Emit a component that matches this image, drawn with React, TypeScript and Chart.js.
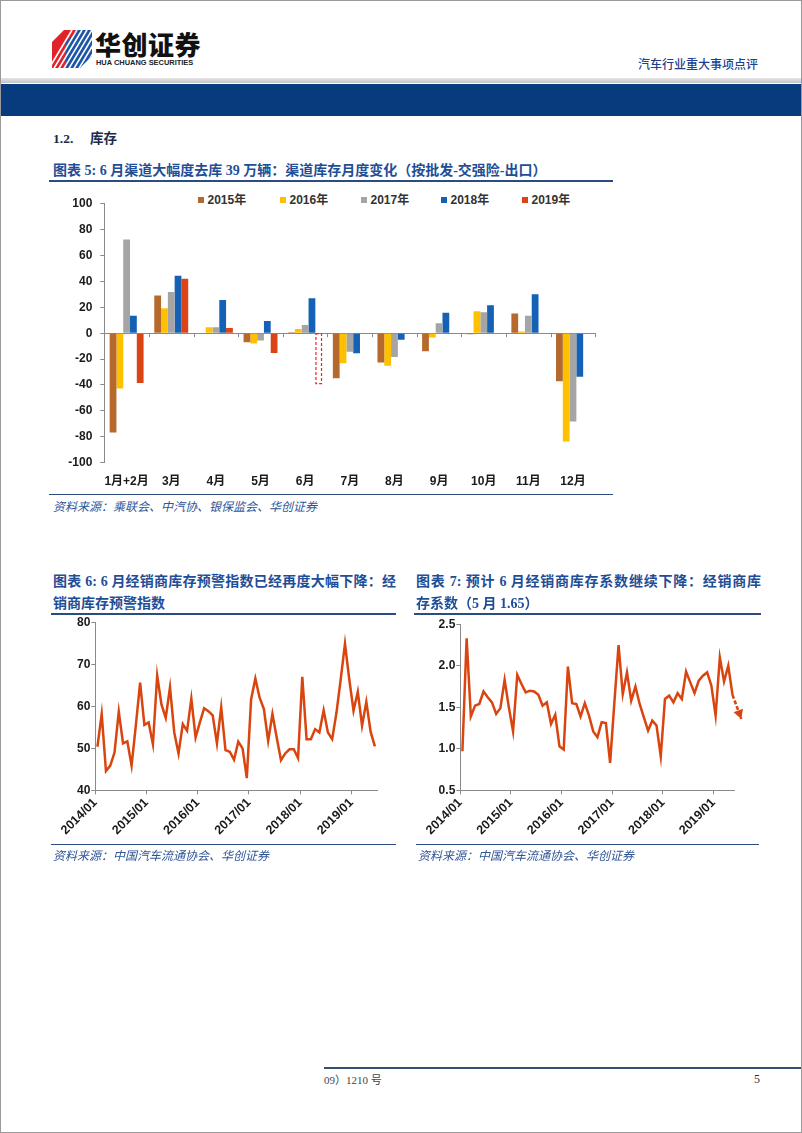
import React, { useEffect, useRef } from 'react';
import { Chart, registerables } from 'chart.js';

Chart.register(...registerables);

// ---------- Data ----------
const barCategories = ['1月+2月', '3月', '4月', '5月', '6月', '7月', '8月', '9月', '10月', '11月', '12月'];
const barYears = ['2015年', '2016年', '2017年', '2018年', '2019年'];
const inv2015 = [-76.7, 29.1, 0, -6.9, 0.8, -34.7, -22.7, -13.9, -0.8, 15.2, -37.1];
const inv2016 = [-42.7, 19.3, 4.6, -8.0, 3.3, -23.2, -25.2, -3.3, 17.0, 1.3, -83.7];
const inv2017 = [72.3, 31.9, 4.6, -5.7, 6.4, -14.4, -18.3, 7.7, 16.2, 13.4, -68.2];
const inv2018 = [13.4, 44.3, 25.7, 9.5, 27.0, -15.4, -5.1, 15.7, 21.6, 30.1, -33.7];
const inv2019 = [-38.4, 42.0, 4.1, -15.2, -39, null, null, null, null, null, null];
const estimateIndex = 4; // 6月 2019 estimate (dashed box)
const barColors = ['#B5692C', '#FFC000', '#A5A5A5', '#1461B5', '#DA4516'];

const yearTickLabels = ['2014/01', '2015/01', '2016/01', '2017/01', '2018/01', '2019/01'];

// 经销商库存预警指数 2014/01 - 2019/06
const dealerIndex = [
  50.4, 58.2, 44.6, 45.9, 49.0, 58.8, 51.2, 51.7, 45.9, 55.5, 65.7, 55.6,
  56.2, 51.0, 67.4, 60.5, 57.3, 64.6, 53.8, 48.8, 55.8, 54.2, 61.9, 52.6,
  56.2, 59.6, 58.9, 57.9, 51.2, 59.8, 49.6, 49.2, 47.3, 51.6, 50.0, 42.9,
  61.7, 66.7, 62.1, 59.4, 51.8, 58.2, 52.6, 47.2, 48.8, 49.8, 49.8, 47.7,
  67.1, 52.2, 52.2, 54.6, 53.8, 59.1, 53.8, 52.2, 58.5, 66.5, 75.0, 66.5,
  59.0, 63.5, 55.4, 61.1, 54.0, 50.5,
];

// 经销商库存系数 2014/01 - 2019/05
const dealerCoef = [
  0.97, 2.33, 1.39, 1.52, 1.54, 1.69, 1.62, 1.56, 1.42, 1.49, 1.83, 1.50,
  1.21, 1.89, 1.78, 1.68, 1.70, 1.69, 1.65, 1.52, 1.56, 1.30, 1.41, 1.03,
  0.99, 1.99, 1.55, 1.54, 1.39, 1.55, 1.40, 1.21, 1.14, 1.32, 1.31, 0.83,
  1.55, 2.25, 1.66, 1.92, 1.58, 1.75, 1.54, 1.38, 1.22, 1.34, 1.28, 0.91,
  1.60, 1.64, 1.56, 1.67, 1.60, 1.93, 1.80, 1.67, 1.82, 1.88, 1.92, 1.76,
  1.40, 2.10, 1.81, 2.00, 1.65,
];
// forecast arrow (June): from last value to expected lower value
const coefForecastX = [64.5, 66.6];
const coefForecastY = [1.65, 1.36];

// ---------- Styles ----------
const LINE_COLOR = '#D9440F';
const AXIS_COLOR = '#8A8A8A';
const TICK_FONT = '"Liberation Sans", "Noto Sans CJK SC", sans-serif';
const TITLE_COLOR = '#1F4E96';
const RULE_COLOR = '#2B4C80';
const SERIF = '"Liberation Serif", "Noto Sans CJK SC", serif';

const barExtras = {
  id: 'barExtras',
  afterDatasetsDraw(chart: any) {
    const ctx = chart.ctx;
    const x = chart.scales.x;
    const y = chart.scales.y;
    const y0 = y.getPixelForValue(0);
    const n = barCategories.length;
    ctx.save();
    ctx.strokeStyle = AXIS_COLOR;
    ctx.lineWidth = 1;
    for (let i = 0; i <= n; i++) {
      const px = Math.round(x.left + (i * (x.right - x.left)) / n) + 0.5;
      ctx.beginPath();
      ctx.moveTo(px, y0);
      ctx.lineTo(px, y0 + 4);
      ctx.stroke();
    }
    const meta = chart.getDatasetMeta(4);
    const el: any = meta.data[estimateIndex];
    if (el) {
      const p = el.getProps(['x', 'y', 'base', 'width'], true);
      const top = Math.min(p.y, p.base);
      const h = Math.abs(p.base - p.y);
      ctx.strokeStyle = '#FF1A1A';
      ctx.lineWidth = 1.2;
      ctx.setLineDash([3, 2]);
      ctx.strokeRect(p.x - p.width / 2 + 0.6, top, p.width - 1.2, h);
    }
    ctx.restore();
  },
};

const arrowHead = {
  id: 'arrowHead',
  afterDatasetsDraw(chart: any) {
    const meta = chart.getDatasetMeta(1);
    if (!meta || meta.data.length < 2) return;
    const a = meta.data[0];
    const b = meta.data[1];
    const ang = Math.atan2(b.y - a.y, b.x - a.x);
    const ctx = chart.ctx;
    const L = 9, W = 5;
    const tx = b.x, ty = b.y;
    const bx = tx - Math.cos(ang) * L, by = ty - Math.sin(ang) * L;
    ctx.save();
    ctx.fillStyle = LINE_COLOR;
    ctx.beginPath();
    ctx.moveTo(tx, ty);
    ctx.lineTo(bx + Math.sin(ang) * W, by - Math.cos(ang) * W);
    ctx.lineTo(bx - Math.sin(ang) * W, by + Math.cos(ang) * W);
    ctx.closePath();
    ctx.fill();
    ctx.restore();
  },
};

// fixes the axis width and removes the automatic label overhang padding
const fixY = (w: number) => (s: any) => {
  s.width = w;
  s.paddingTop = 0;
  s.paddingBottom = 0;
};

function BarChart() {
  const ref = useRef<HTMLCanvasElement>(null);
  useEffect(() => {
    const series = [inv2015, inv2016, inv2017, inv2018, inv2019];
    const chart = new Chart(ref.current as HTMLCanvasElement, {
      type: 'bar',
      data: {
        labels: barCategories,
        datasets: series.map((d, i) => ({
          label: barYears[i],
          data: d,
          backgroundColor:
            i === 4 ? d.map((_, j) => (j === estimateIndex ? 'rgba(0,0,0,0)' : barColors[i])) : barColors[i],
          borderWidth: 0,
          categoryPercentage: 0.76,
          barPercentage: 1,
        })),
      } as any,
      options: {
        animation: false,
        responsive: false,
        maintainAspectRatio: false,
        layout: { padding: { top: 12.7, right: 15.7, left: 0, bottom: 0 } },
        plugins: { legend: { display: false }, tooltip: { enabled: false } },
        scales: {
          x: {
            grid: { display: false, drawTicks: false },
            border: { display: false },
            ticks: {
              padding: 12,
              color: '#1a1a1a',
              autoSkip: false,
              maxRotation: 0,
              font: { family: TICK_FONT, size: 12, weight: 'bold' },
            },
            afterFit: (s: any) => { s.height = 28.3; },
          },
          y: {
            min: -100,
            max: 100,
            ticks: {
              stepSize: 20,
              padding: 8,
              color: '#1a1a1a',
              font: { family: TICK_FONT, size: 12, weight: 'bold' },
            },
            grid: {
              color: (c: any) => (c.tick && c.tick.value === 0 ? AXIS_COLOR : 'rgba(0,0,0,0)'),
              tickColor: AXIS_COLOR,
              tickLength: 4,
              lineWidth: 1,
            },
            border: { color: AXIS_COLOR },
            afterFit: fixY(43.3),
          },
        },
      } as any,
      plugins: [barExtras],
    });
    return () => chart.destroy();
  }, []);
  return (
    <canvas ref={ref} width={550} height={300}
      style={{ position: 'absolute', left: 60, top: 190, width: 550, height: 300 }} />
  );
}

function makeLineOptions(p: {
  xMax: number; yMin: number; yMax: number; step: number; decimals: number;
  top: number; right: number; yWidth: number; xHeight: number;
}) {
  return {
    animation: false,
    responsive: false,
    maintainAspectRatio: false,
    layout: { padding: { top: p.top, right: p.right, left: 0, bottom: 0 } },
    plugins: { legend: { display: false }, tooltip: { enabled: false } },
    scales: {
      x: {
        type: 'linear',
        min: 0,
        max: p.xMax,
        afterBuildTicks: (s: any) => {
          s.ticks = yearTickLabels.map((_, i) => ({ value: i * 12 }));
        },
        ticks: {
          autoSkip: false,
          minRotation: 45,
          maxRotation: 45,
          padding: 1,
          color: '#1a1a1a',
          font: { family: TICK_FONT, size: 12.5, weight: 'bold' },
          callback: (v: any) => yearTickLabels[Math.round(v / 12)] ?? '',
        },
        grid: { drawOnChartArea: false, drawTicks: true, tickLength: 4, color: AXIS_COLOR },
        border: { color: AXIS_COLOR },
        afterFit: (s: any) => { s.height = p.xHeight; },
      },
      y: {
        min: p.yMin,
        max: p.yMax,
        ticks: {
          stepSize: p.step,
          padding: 1,
          color: '#1a1a1a',
          font: { family: TICK_FONT, size: 12, weight: 'bold' },
          callback: (v: any) => Number(v).toFixed(p.decimals),
        },
        grid: { drawOnChartArea: false, drawTicks: true, tickLength: 4, color: AXIS_COLOR },
        border: { color: AXIS_COLOR },
        afterFit: fixY(p.yWidth),
      },
    },
  };
}

function IndexChart() {
  const ref = useRef<HTMLCanvasElement>(null);
  useEffect(() => {
    const chart = new Chart(ref.current as HTMLCanvasElement, {
      type: 'line',
      data: {
        datasets: [{
          data: dealerIndex.map((v, i) => ({ x: i + 0.5, y: v })),
          borderColor: LINE_COLOR,
          borderWidth: 2.5,
          pointRadius: 0,
          tension: 0,
        }],
      },
      options: makeLineOptions({
        xMax: 66, yMin: 40, yMax: 80, step: 10, decimals: 0,
        top: 6.7, right: 34, yWidth: 54.3, xHeight: 65.7,
      }) as any,
    });
    return () => chart.destroy();
  }, []);
  return (
    <canvas ref={ref} width={370} height={240}
      style={{ position: 'absolute', left: 40, top: 615, width: 370, height: 240 }} />
  );
}

function CoefChart() {
  const ref = useRef<HTMLCanvasElement>(null);
  useEffect(() => {
    const chart = new Chart(ref.current as HTMLCanvasElement, {
      type: 'line',
      data: {
        datasets: [
          {
            data: dealerCoef.map((v, i) => ({ x: i + 0.5, y: v })),
            borderColor: LINE_COLOR,
            borderWidth: 2.5,
            pointRadius: 0,
            tension: 0,
          },
          {
            data: coefForecastX.map((x, i) => ({ x, y: coefForecastY[i] })),
            borderColor: LINE_COLOR,
            borderWidth: 2.6,
            borderDash: [4, 2],
            pointRadius: 0,
            tension: 0,
            clip: false,
          },
        ],
      },
      options: makeLineOptions({
        xMax: 65, yMin: 0.5, yMax: 2.5, step: 0.5, decimals: 1,
        top: 8.3, right: 46.4, yWidth: 59.3, xHeight: 65.7,
      }) as any,
      plugins: [arrowHead],
    });
    return () => chart.destroy();
  }, []);
  return (
    <canvas ref={ref} width={380} height={240}
      style={{ position: 'absolute', left: 400, top: 615, width: 380, height: 240 }} />
  );
}

const abs = (l: number, t: number, extra: React.CSSProperties = {}): React.CSSProperties => ({
  position: 'absolute', left: l, top: t, ...extra,
});

function Rule({ x1, x2, y, color = RULE_COLOR, h = 1.5 }: { x1: number; x2: number; y: number; color?: string; h?: number }) {
  return <div style={abs(x1, y, { width: x2 - x1, height: h, background: color })} />;
}

const titleStyle: React.CSSProperties = {
  fontFamily: SERIF, fontWeight: 'bold', fontSize: 14, color: TITLE_COLOR,
  lineHeight: '18px', whiteSpace: 'nowrap',
};
const sourceStyle: React.CSSProperties = {
  fontFamily: SERIF, fontStyle: 'italic', fontSize: 12, color: '#2F5597',
  lineHeight: '14px', whiteSpace: 'nowrap',
};

function Logo() {
  const stripes = [];
  for (let i = 0; i < 9; i++) {
    stripes.push(<line key={i} x1={-4 + i * 5} y1={40} x2={20 + i * 5} y2={0} stroke="#fff" strokeWidth={1.6} />);
  }
  return (
    <svg width={40} height={38} style={abs(51, 29)} viewBox="0 0 40 38">
      <defs>
        <clipPath id="redc"><polygon points="0,12 12,0 26,0 26,26 14,38 0,38" /></clipPath>
        <clipPath id="bluec"><polygon points="14,12 26,0 40,0 40,26 28,38 14,38" /></clipPath>
      </defs>
      <g clipPath="url(#redc)">
        <rect x={0} y={0} width={40} height={38} fill="#E0232B" />
        {stripes}
      </g>
      <g clipPath="url(#bluec)">
        <rect x={14} y={0} width={26} height={38} fill="#1B55A8" />
        {stripes}
      </g>
    </svg>
  );
}

export default function App() {
  const legendX = [197, 279, 360, 440, 521];
  return (
    <div style={{ position: 'absolute', left: 0, top: 0, width: 802, height: 1133, background: '#fff', overflow: 'hidden', boxSizing: 'border-box', border: '1px solid #9a9a9a' }}>
      {/* Header */}
      <Logo />
      <div style={abs(94, 27, { fontFamily: '"Noto Sans CJK SC", sans-serif', fontWeight: 900, fontSize: 26, lineHeight: '32px', color: '#111', letterSpacing: 0.5 })}>华创证券</div>
      <div style={abs(95, 57, { fontFamily: '"Liberation Sans", sans-serif', fontWeight: 'bold', fontSize: 8, lineHeight: '10px', color: '#222', transform: 'scaleX(0.93)', transformOrigin: 'left' })}>HUA CHUANG SECURITIES</div>
      <div style={abs(637, 55, { fontFamily: '"Noto Sans CJK SC", sans-serif', fontWeight: 500, fontSize: 12, lineHeight: '16px', color: '#1F3F8F' })}>汽车行业重大事项点评</div>
      <div style={abs(0, 77, { width: 802, height: 5, background: 'linear-gradient(#e4e4e4, #c4c4c4)' })} />
      <div style={abs(0, 83, { width: 802, height: 32, background: '#083B7D' })} />

      {/* Section heading */}
      <div style={abs(52, 129, { fontFamily: SERIF, fontWeight: 'bold', fontSize: 13.5, lineHeight: '18px', color: '#1C2B4A' })}>1.2.</div>
      <div style={abs(89, 129, { fontFamily: SERIF, fontWeight: 'bold', fontSize: 13.5, lineHeight: '18px', color: '#1C2B4A' })}>库存</div>

      {/* Chart 5 */}
      <div style={abs(52, 161, titleStyle)}>图表 5: 6 月渠道大幅度去库 39 万辆：渠道库存月度变化（按批发-交强险-出口）</div>
      <Rule x1={48} x2={612} y={179} />
      {barYears.map((y, i) => (
        <React.Fragment key={y}>
          <div style={abs(legendX[i], 196, { width: 6, height: 6, background: barColors[i] })} />
          <div style={abs(legendX[i] + 9.5, 191, { fontFamily: TICK_FONT, fontWeight: 'bold', fontSize: 12, lineHeight: '16px', color: '#333' })}>{y}</div>
        </React.Fragment>
      ))}
      <BarChart />
      <Rule x1={48} x2={612} y={493} h={1} />
      <div style={abs(52, 499, sourceStyle)}>资料来源：乘联会、中汽协、银保监会、华创证券</div>

      {/* Chart 6 */}
      <div style={abs(52, 572, { ...titleStyle, width: 343, textAlign: 'justify', textAlignLast: 'justify' as any })}>图表 6: 6 月经销商库存预警指数已经再度大幅下降：经</div>
      <div style={abs(52, 594, titleStyle)}>销商库存预警指数</div>
      <Rule x1={50} x2={395} y={612} />
      <IndexChart />
      <Rule x1={50} x2={395} y={843} h={1} />
      <div style={abs(52, 848, sourceStyle)}>资料来源：中国汽车流通协会、华创证券</div>

      {/* Chart 7 */}
      <div style={abs(415, 572, { ...titleStyle, width: 345, textAlign: 'justify', textAlignLast: 'justify' as any })}>图表 7: 预计 6 月经销商库存系数继续下降：经销商库</div>
      <div style={abs(415, 594, titleStyle)}>存系数（5 月 1.65）</div>
      <Rule x1={413} x2={760} y={612} />
      <CoefChart />
      <Rule x1={415} x2={758} y={843} h={1} />
      <div style={abs(417, 848, sourceStyle)}>资料来源：中国汽车流通协会、华创证券</div>

      {/* Footer */}
      <div style={abs(323, 1066, { width: 479, height: 2, background: '#33506F' })} />
      <div style={abs(323, 1072, { fontFamily: SERIF, fontSize: 11, lineHeight: '14px', color: '#444' })}>09）1210 号</div>
      <div style={abs(753, 1071, { fontFamily: SERIF, fontSize: 12, lineHeight: '14px', color: '#333' })}>5</div>
    </div>
  );
}
